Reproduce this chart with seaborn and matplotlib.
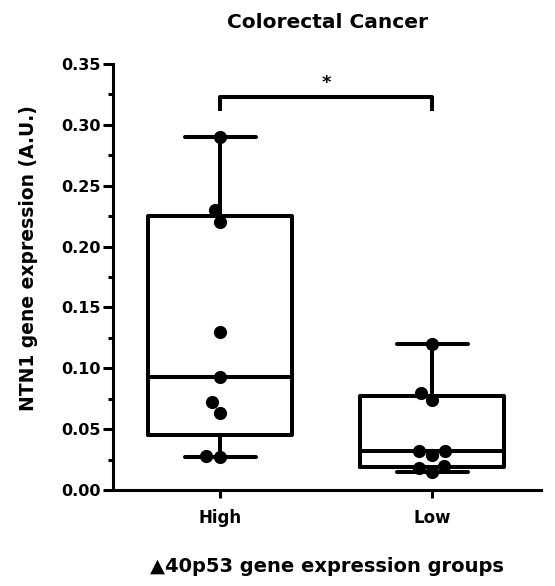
import numpy as np
import pandas as pd
import matplotlib
matplotlib.use("Agg")
import matplotlib.pyplot as plt
from matplotlib.ticker import MultipleLocator
import seaborn as sns

# values
groups = ["High", "Low"]
high_values = [0.29, 0.23, 0.22, 0.13, 0.093, 0.072, 0.063, 0.028, 0.027]
low_values = [0.12, 0.080, 0.074, 0.032, 0.032, 0.029, 0.020, 0.018, 0.015]
y_ticks = [0.00, 0.05, 0.10, 0.15, 0.20, 0.25, 0.30, 0.35]
signif_label = "*"

sns.set_theme(style="ticks")
plt.rcParams["font.family"] = ["DejaVu Sans"]
plt.rcParams["font.weight"] = "bold"
for key in ["text.color", "axes.labelcolor", "xtick.color", "ytick.color",
            "axes.edgecolor"]:
    plt.rcParams[key] = "black"

df = pd.DataFrame({
    "group": ["High"] * len(high_values) + ["Low"] * len(low_values),
    "value": high_values + low_values,
})

fig = plt.figure(figsize=(5.55, 5.86), dpi=100)
ax = fig.add_axes([0.2036, 0.1638, 0.7712, 0.727])

sns.swarmplot(data=df, x="group", y="value", order=groups, color="black",
              size=9.5, ax=ax, zorder=3)

# GraphPad style box: quartiles by (n+1)p rank, whiskers min to max
stats = []
for g in groups:
    v = np.asarray(df.loc[df["group"] == g, "value"])
    q1, med, q3 = np.percentile(v, [25, 50, 75], method="weibull")
    stats.append(dict(med=med, q1=q1, q3=q3, whislo=v.min(), whishi=v.max(),
                      fliers=[], label=g))
lw = 2.9
ax.bxp(stats, positions=[0, 1], widths=0.68, capwidths=0.335,
       showfliers=False, manage_ticks=False,
       boxprops=dict(color="black", linewidth=lw),
       whiskerprops=dict(color="black", linewidth=lw),
       capprops=dict(color="black", linewidth=lw),
       medianprops=dict(color="black", linewidth=lw))

# significance bracket
y_bar, y_leg = 0.323, 0.311
ax.plot([0, 0, 1, 1], [y_leg, y_bar, y_bar, y_leg], color="black",
        linewidth=lw, solid_capstyle="butt", clip_on=False)
ax.text(0.5, y_bar + 0.004, signif_label, ha="center", va="bottom",
        fontsize=13, fontweight="bold")

ax.set_xlim(-0.505, 1.514)
ax.set_ylim(0, 0.35)
ax.set_yticks(y_ticks)
ax.set_yticklabels([f"{t:.2f}" for t in y_ticks])
ax.yaxis.set_minor_locator(MultipleLocator(0.025))
ax.set_xticks([0, 1])
ax.set_xticklabels(groups)

sns.despine(ax=ax)
for s in ["left", "bottom"]:
    ax.spines[s].set_linewidth(2.2)
    ax.spines[s].set_color("black")
ax.tick_params(axis="both", which="major", length=7, width=2.2, color="black",
               labelsize=11.5, pad=2)
ax.tick_params(axis="y", which="minor", length=3.5, width=2.2, color="black")
ax.tick_params(axis="x", length=6, pad=8, labelsize=12)
for lab in ax.get_xticklabels() + ax.get_yticklabels():
    lab.set_fontweight("bold")

ax.set_xlabel("▲40p53 gene expression groups", fontsize=14,
              fontweight="bold", labelpad=21)
ax.set_ylabel("NTN1 gene expression (A.U.)", fontsize=13.5,
              fontweight="bold")
ax.yaxis.set_label_coords(-0.175, 0.545)
ax.set_title("Colorectal Cancer", fontsize=14.5, fontweight="bold", pad=26)

fig.savefig("out.png", dpi=100, facecolor="white")
